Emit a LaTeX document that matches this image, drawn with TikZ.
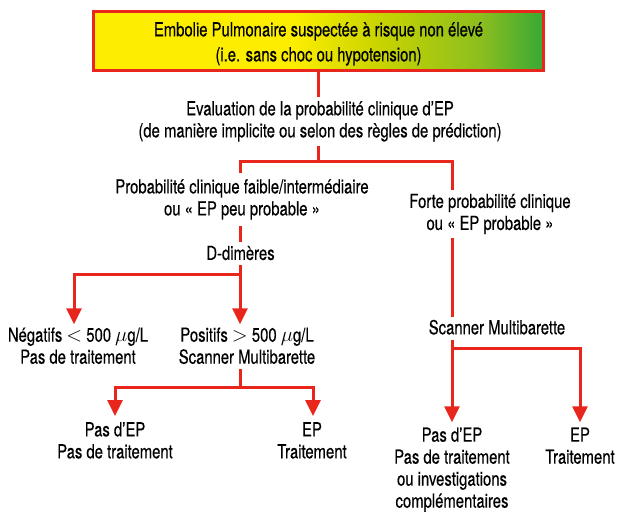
\documentclass[tikz,border=0pt]{standalone}
\usepackage{fontspec}
\setmainfont{TeX Gyre Heros}[FakeStretch=0.765,FakeBold=0.35]
\usetikzlibrary{arrows.meta,calc}
\definecolor{epred}{RGB}{232,38,28}
\definecolor{epyel}{RGB}{253,238,0}
\definecolor{epmid}{RGB}{202,212,0}
\definecolor{eplgr}{RGB}{140,190,30}
\definecolor{epgrn}{RGB}{56,168,53}
\pgfdeclarehorizontalshading{epgrad}{100bp}{color(0bp)=(epyel); color(25bp)=(epyel); color(47bp)=(epyel); color(56.5bp)=(epmid); color(68bp)=(eplgr); color(75bp)=(epgrn); color(100bp)=(epgrn)}
\begin{document}
\begin{tikzpicture}[x=1pt,y=-1pt,
  conn/.style={draw=epred,line width=3pt},
  arr/.style={conn,-{Triangle[width=15pt,length=16pt]}},
  txt/.style={align=center,inner sep=0pt,anchor=north,font=\fontsize{19.4}{22}\selectfont},
  topbox/.style={draw=epred,line width=3pt,shading=epgrad,minimum width=450pt,minimum height=59pt,inner sep=0pt}]
\useasboundingbox (0,0) rectangle (618,513);
\node[topbox] (top) at (318.5,41) {};
\node[txt,font=\fontsize{19.4}{25}\selectfont] (toptxt) at (318.5,22) {Embolie Pulmonaire suspectée à risque non élevé\\(i.e. sans choc ou hypotension)};
\node[txt] (eval) at (320,101) {Evaluation de la probabilité clinique d’EP\\(de manière implicite ou selon des règles de prédiction)};
\node[txt] (prob1) at (242,179) {Probabilité clinique faible/intermédiaire\\ou « EP peu probable »};
\node[txt] (ddim) at (240.5,245.6) {D-dimères};
\node[txt] (forte) at (490,193.6) {Forte probabilité clinique\\ou « EP probable »};
\node[txt] (neg) at (78,327.3) {Négatifs $<$ 500 $\mu$g/L\\Pas de traitement};
\node[txt] (pos) at (247,327.3) {Positifs $>$ 500 $\mu$g/L\\Scanner Multibarette};
\node[txt] (scan2) at (497,319.6) {Scanner Multibarette};
\node[txt] (pas1) at (115,422) {Pas d’EP\\Pas de traitement};
\node[txt] (ep1) at (312,422) {EP\\Traitement};
\node[txt] (pas2) at (452,427.3) {Pas d’EP\\Pas de traitement\\ou investigations\\complémentaires};
\node[txt] (ep2) at (580,427.3) {EP\\Traitement};
\coordinate (j1) at (318,162);
\coordinate (j2) at (240,274);
\coordinate (j3) at (240,387);
\coordinate (j4) at (452,348);
\coordinate (cA) at (74,0);
\coordinate (cB) at (240,0);
\coordinate (cD) at (452,0);
\coordinate (cE) at (115,0);
\coordinate (cF) at (313,0);
\coordinate (cG) at (580,0);
\draw[conn] (top.south) -- ($(top.south |- eval.north)+(0,-4)$);
\draw[conn] ($(j1 |- eval.south)+(0,4)$) -- (j1);
\draw[conn] ($(cB |- prob1.north)+(0,-6)$) |- (j1) -| ($(cD |- forte.north)+(0,-4)$);
\draw[conn] ($(cB |- prob1.south)+(0,6)$) -- ($(cB |- ddim.north)+(0,-4)$);
\draw[arr] ($(cB |- ddim.south)+(0,5)$) -- (j2) -| ($(cA |- neg.north)+(0,-3)$);
\draw[arr] (j2) -- ($(cB |- pos.north)+(0,-3)$);
\draw[conn] ($(cB |- pos.south)+(0,5)$) -- (j3);
\draw[arr] (j3) -| ($(cE |- pas1.north)+(0,-6)$);
\draw[arr] (j3) -| ($(cF |- ep1.north)+(0,-6)$);
\draw[conn] ($(cD |- forte.south)+(0,4)$) -- ($(cD |- scan2.north)+(0,-3)$);
\draw[arr] ($(cD |- scan2.south)+(0,5)$) -- ($(cD |- pas2.north)+(0,-5)$);
\draw[arr] (j4) -| ($(cG |- ep2.north)+(0,-5)$);
\end{tikzpicture}
\end{document}
